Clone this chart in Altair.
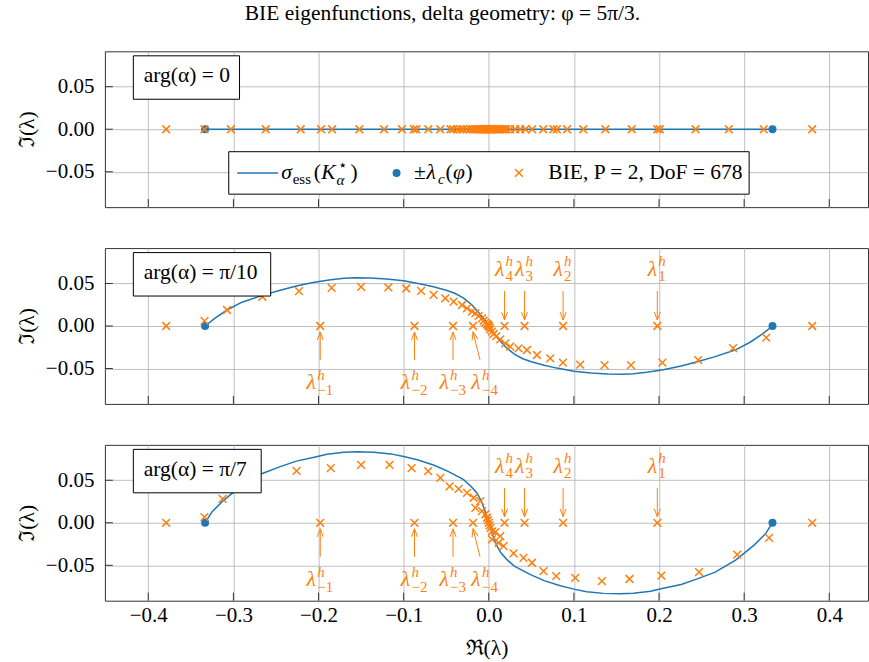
import altair as alt
import pandas as pd

# ------------------------------------------------------------------ data
x_ticks = [-0.4, -0.3, -0.2, -0.1, 0.0, 0.1, 0.2, 0.3, 0.4]
y_ticks = [-0.05, 0.0, 0.05]

lambda_c = [-0.3333, 0.3333]          # ±λ_c(φ)

# isolated BIE eigenvalues λ^h_k on the real axis
lam_h_pos = [0.198, 0.0873, 0.042, 0.0185]
lam_h_pos_lab = ["1", "2", "3", "4"]
lam_h_neg = [-0.198, -0.0873, -0.042, -0.0185]
lam_h_neg_lab = ["−1", "−2", "−3", "−4"]

panel_titles = ["arg(α) = 0", "arg(α) = π/10", "arg(α) = π/7"]

# essential spectrum σ_ess(K*_α)
ess0_x = [-0.3333, 0.3333]
ess0_y = [0.0, 0.0]

ess1_x = [-0.3333, -0.322, -0.3075, -0.29, -0.266, -0.245, -0.226, -0.205, -0.1856, -0.17, -0.157,
          -0.14, -0.12, -0.1, -0.08, -0.065, -0.05, -0.04, -0.03, -0.02, -0.012, -0.006, 0.0,
          0.006, 0.012, 0.02, 0.03, 0.04, 0.05, 0.065, 0.08, 0.1, 0.12, 0.14, 0.157, 0.17, 0.1856,
          0.205, 0.226, 0.245, 0.266, 0.29, 0.3075, 0.322, 0.3333]
ess1_y = [0.0, 0.009, 0.0188, 0.028, 0.036, 0.042, 0.047, 0.0515, 0.0545, 0.0561, 0.0566,
          0.0563, 0.0552, 0.0532, 0.0495, 0.0462, 0.042, 0.0385, 0.033, 0.025, 0.016, 0.0085, 0.0,
          -0.0085, -0.016, -0.025, -0.033, -0.0385, -0.042, -0.0462, -0.0495, -0.0532, -0.0552, -0.0563,
          -0.0566, -0.0561, -0.0545, -0.0515, -0.047, -0.042, -0.036, -0.028, -0.0188, -0.009, 0.0]

ess2_x = [-0.3333, -0.325, -0.312, -0.29, -0.266, -0.245, -0.226, -0.205, -0.19, -0.17, -0.154,
          -0.135, -0.115, -0.1, -0.084, -0.065, -0.049, -0.03, -0.021, -0.014, -0.009, -0.004, 0.0,
          0.004, 0.009, 0.014, 0.021, 0.03, 0.049, 0.065, 0.084, 0.1, 0.115, 0.135, 0.154, 0.17,
          0.19, 0.205, 0.226, 0.245, 0.266, 0.29, 0.312, 0.325, 0.3333]
ess2_y = [0.0, 0.013, 0.026, 0.044, 0.058, 0.066, 0.0725, 0.077, 0.0805, 0.0828, 0.0835,
          0.083, 0.081, 0.078, 0.074, 0.068, 0.061, 0.051, 0.043, 0.035, 0.026, 0.013, 0.0,
          -0.013, -0.026, -0.035, -0.043, -0.051, -0.061, -0.068, -0.074, -0.078, -0.081, -0.083,
          -0.0835, -0.0828, -0.0805, -0.077, -0.0725, -0.066, -0.058, -0.044, -0.026, -0.013, 0.0]

# BIE eigenvalues, P=2, DoF=678
bie0_x = [-0.379, -0.334, -0.303, -0.262, -0.221, -0.197, -0.184, -0.152, -0.123, -0.102, -0.088,
          -0.085, -0.071, -0.057, -0.045, -0.042, -0.037, -0.033, -0.030, -0.026, -0.022, -0.019,
          -0.016, -0.014, -0.012, -0.010, -0.008, -0.0065, -0.005, -0.004, -0.003, -0.002, -0.001,
          0.0, 0.001, 0.002, 0.003, 0.004, 0.005, 0.0065, 0.008, 0.010, 0.012, 0.014, 0.016, 0.019,
          0.021, 0.025, 0.031, 0.037, 0.043, 0.051, 0.064, 0.076, 0.080, 0.092, 0.111, 0.137, 0.168,
          0.198, 0.201, 0.243, 0.282, 0.323, 0.380]
bie0_y = [0.0] * len(bie0_x)

bie1_x = [-0.379, -0.334, -0.3075, -0.266, -0.223, -0.1846, -0.150, -0.118, -0.097, -0.0795, -0.0648,
          -0.0511, -0.0413, -0.0315, -0.0256, -0.0197, -0.0158, -0.012, -0.008, -0.0061, -0.0041,
          -0.0021, -0.001, 0.0, 0.001, 0.0018, 0.0037, 0.0057, 0.0088, 0.0135, 0.0194, 0.0252, 0.035,
          0.0448, 0.0566, 0.0722, 0.0871, 0.1074, 0.136, 0.167, 0.204, 0.246, 0.287, 0.326, 0.380]
bie1_y = [0.0, 0.006, 0.0188, 0.0344, 0.041, 0.0449, 0.0461, 0.0453, 0.0441, 0.0414, 0.0365,
          0.0326, 0.0286, 0.0247, 0.0208, 0.0169, 0.0149, 0.0118, 0.009, 0.0062, 0.0039,
          0.0024, 0.0012, 0.0, -0.0015, -0.0039, -0.0067, -0.0094, -0.0118, -0.0157, -0.0204, -0.0243, -0.0263,
          -0.0282, -0.0341, -0.038, -0.0431, -0.0455, -0.046, -0.046, -0.043, -0.040, -0.026, -0.0137, 0.0]

bie2_x = [-0.379, -0.334, -0.3128, -0.273, -0.2258, -0.1856, -0.150, -0.1166, -0.0907, -0.0712, -0.0569,
          -0.046, -0.0354, -0.0256, -0.0178, -0.0158, -0.010, -0.008, -0.0041, -0.0021, -0.001, 0.0,
          0.001, 0.0021, 0.0037, 0.0041, 0.0076, 0.0115, 0.0135, 0.0174, 0.0291, 0.0408, 0.0507,
          0.0643, 0.0792, 0.1015, 0.1329, 0.1653, 0.2027, 0.247, 0.2919, 0.3293, 0.380]
bie2_y = [0.0, 0.0067, 0.028, 0.047, 0.061, 0.0642, 0.0681, 0.0681, 0.0642, 0.0608, 0.0527,
          0.0429, 0.0398, 0.0351, 0.0294, 0.0176, 0.0255, 0.0138, 0.0099, 0.0059, 0.003, 0.0,
          -0.003, -0.006, -0.0196, -0.010, -0.011, -0.0235, -0.0156, -0.0274, -0.036, -0.0412, -0.047,
          -0.0568, -0.0627, -0.0647, -0.0686, -0.0661, -0.0622, -0.0579, -0.0374, -0.0177, 0.0]

# ------------------------------------------------------------------ style
FONT = "Liberation Serif"
FS = 21.5       # main text size
SS = 15         # script size
BLUE, ORANGE, FRAME, GRID = "#1f77b4", "#ff7f0e", "#333333", "#b0b0b0"
W, H = 764, 156
XPATH = "M-1,-1L1,1M1,-1L-1,1"
DOWN_HEAD = "M-0.375,-1L0,0L0.375,-1"
UP_HEAD = "M-0.375,1L0,0L0.375,1"

xs = alt.Scale(domain=[-0.451, 0.4455], nice=False, zero=False)
ys = alt.Scale(domain=[-0.0916, 0.0916], nice=False, zero=False)
ONE = pd.DataFrame({"k": [0]})


def txt(t, x, y, size=FS, italic=False, align="left", color="black"):
    kw = dict(text=t, font=FONT, fontSize=size, align=align, baseline="middle", color=color)
    if italic:
        kw["fontStyle"] = "italic"
    return alt.Chart(ONE).mark_text(**kw).encode(x=alt.value(x), y=alt.value(y))


def panel(cx, cy, bx, by, title, box_right, last, annotate, legend):
    ax_kw = dict(values=x_ticks, format=".1f", grid=True, labels=last, labelPadding=4)
    if last:
        ax_kw["title"] = "ℜ(λ)"
        ax_kw["titlePadding"] = 12
    else:
        ax_kw["title"] = None
    x_axis = alt.Axis(**ax_kw)
    y_axis = alt.Axis(values=y_ticks, format=".2f", grid=True, title="ℑ(λ)",
                      labelPadding=11, titlePadding=6.5)

    def X():
        return alt.X("x:Q", scale=xs, axis=x_axis)

    def Y():
        return alt.Y("y:Q", scale=ys, axis=y_axis)

    def ann(df, y_lam, y_h, y_sub, dx_lam, dx_h, dx_sub, y_tip, y_base, head, angle=0, x2off=0):
        rule_kw = dict(color=ORANGE, strokeWidth=1)
        if x2off:
            rule_kw["x2Offset"] = x2off
        rule = alt.Chart(df).mark_rule(**rule_kw).encode(
            x=X(), x2="x:Q", y=alt.value(y_tip), y2=alt.value(y_base))
        head_kw = dict(shape=head, filled=False, color=ORANGE, size=256, strokeWidth=1, opacity=1)
        if angle:
            head_kw["angle"] = angle
        hd = alt.Chart(df).mark_point(**head_kw).encode(x=X(), y=alt.value(y_tip))
        lam = alt.Chart(df).mark_text(text="λ", font=FONT, fontSize=FS, fontStyle="italic", color=ORANGE,
                                      align="center", baseline="middle", dx=dx_lam).encode(
            x=X(), y=alt.value(y_lam))
        h = alt.Chart(df).mark_text(text="h", font=FONT, fontSize=SS, fontStyle="italic", color=ORANGE,
                                    align="left", baseline="middle", dx=dx_h).encode(
            x=X(), y=alt.value(y_h))
        sub = alt.Chart(df).mark_text(font=FONT, fontSize=SS, color=ORANGE,
                                      align="left", baseline="middle", dx=dx_sub).encode(
            x=X(), y=alt.value(y_sub), text="k:N")
        return [rule, hd, lam, h, sub]

    curve = pd.DataFrame({"x": cx, "y": cy, "i": list(range(len(cx)))})
    bx_all = list(bx) + (lam_h_pos + lam_h_neg if annotate else [])
    by_all = list(by) + ([0.0] * 8 if annotate else [])
    bie = pd.DataFrame({"x": bx_all, "y": by_all})
    dots = pd.DataFrame({"x": lambda_c, "y": [0.0, 0.0]})

    layers = [
        alt.Chart(curve).mark_line(color=BLUE, strokeWidth=1.5).encode(
            x=X(), y=Y(), order="i:Q"),
        alt.Chart(dots).mark_point(shape="circle", filled=True, color=BLUE, size=64, opacity=1).encode(
            x=X(), y=Y()),
        alt.Chart(bie).mark_point(shape=XPATH, filled=False, color=ORANGE, size=60,
                                  strokeWidth=1.5, opacity=1).encode(x=X(), y=Y()),
        alt.Chart(pd.DataFrame({"x": x_ticks})).mark_rule(color=FRAME, strokeWidth=1).encode(
            x=X(), y=alt.value(H), y2=alt.value(H - 8)),
        alt.Chart(pd.DataFrame({"y": y_ticks})).mark_rule(color=FRAME, strokeWidth=1).encode(
            y=Y(), x=alt.value(0), x2=alt.value(8)),
    ]
    if annotate:
        top = pd.DataFrame({"x": lam_h_pos, "k": lam_h_pos_lab})
        bot = pd.DataFrame({"x": lam_h_neg[:3], "k": lam_h_neg_lab[:3]})
        bot4 = pd.DataFrame({"x": lam_h_neg[3:], "k": lam_h_neg_lab[3:]})
        layers += ann(top, 22, 13, 28, -5, 1, 1, 72, 43, DOWN_HEAD)
        layers += ann(bot, 135, 127, 142, -9, -3, -3, 84, 112, UP_HEAD)
        layers += ann(bot4, 135, 127, 142, 3, 9, 9, 84, 112, UP_HEAD, angle=346, x2off=7)

    layers.append(alt.Chart(ONE).mark_rect(fill="white", stroke="black", strokeWidth=1).encode(
        x=alt.value(28.5), x2=alt.value(box_right), y=alt.value(4.5), y2=alt.value(48)))
    layers.append(txt(title, 39, 25))

    if legend:
        ly = 121.7
        layers.append(alt.Chart(ONE).mark_rect(fill="white", stroke="black", strokeWidth=1).encode(
            x=alt.value(124), x2=alt.value(645), y=alt.value(100.5), y2=alt.value(143)))
        layers.append(alt.Chart(ONE).mark_rule(color=BLUE, strokeWidth=1.5).encode(
            x=alt.value(132.5), x2=alt.value(173.5), y=alt.value(ly)))
        layers.append(alt.Chart(ONE).mark_point(shape="circle", filled=True, color=BLUE, size=64,
                                                opacity=1).encode(x=alt.value(292), y=alt.value(ly)))
        layers.append(alt.Chart(ONE).mark_point(shape=XPATH, filled=False, color=ORANGE, size=60,
                                                strokeWidth=1.5, opacity=1).encode(
            x=alt.value(414.5), y=alt.value(ly)))
        layers += [
            txt("σ", 176.5, ly, italic=True),
            txt("ess", 188, ly + 6, size=SS),
            txt("(", 209, ly),
            txt("K", 216.5, ly, italic=True),
            txt("α", 232, ly + 7, size=SS, italic=True),
            txt("⋆", 233, ly - 8, size=SS),
            txt(")", 246, ly),
            txt("±", 309.5, ly),
            txt("λ", 322, ly, italic=True),
            txt("c", 333.5, ly + 6, size=SS, italic=True),
            txt("(", 341, ly),
            txt("φ", 348.5, ly, italic=True),
            txt(")", 361, ly),
            txt("BIE, P = 2, DoF = 678", 444, ly),
        ]
    return alt.layer(*layers).properties(width=W, height=H)


p1 = panel(ess0_x, ess0_y, bie0_x, bie0_y, panel_titles[0], 134.8, False, False, True)
p2 = panel(ess1_x, ess1_y, bie1_x, bie1_y, panel_titles[1], 166, False, True, False)
p3 = panel(ess2_x, ess2_y, bie2_x, bie2_y, panel_titles[2], 156.5, True, True, False)

chart = alt.vconcat(p1, p2, p3, spacing=39).properties(
    title=alt.TitleParams("BIE eigenfunctions, delta geometry: φ = 5π/3.", font=FONT, fontSize=FS,
                          fontWeight="normal", anchor="middle", offset=26, color="black"),
    padding={"left": 16, "top": 3, "right": 0, "bottom": 0},
).configure_view(stroke=FRAME, strokeWidth=1).configure_axis(
    labelFont=FONT, titleFont=FONT, labelFontSize=21, titleFontSize=FS, labelColor="black",
    titleColor="black", titleFontWeight="normal", gridColor=GRID, gridWidth=0.8,
    ticks=False, domain=False,
)

chart.save("out.html", embed_options={"renderer": "svg", "actions": False})
